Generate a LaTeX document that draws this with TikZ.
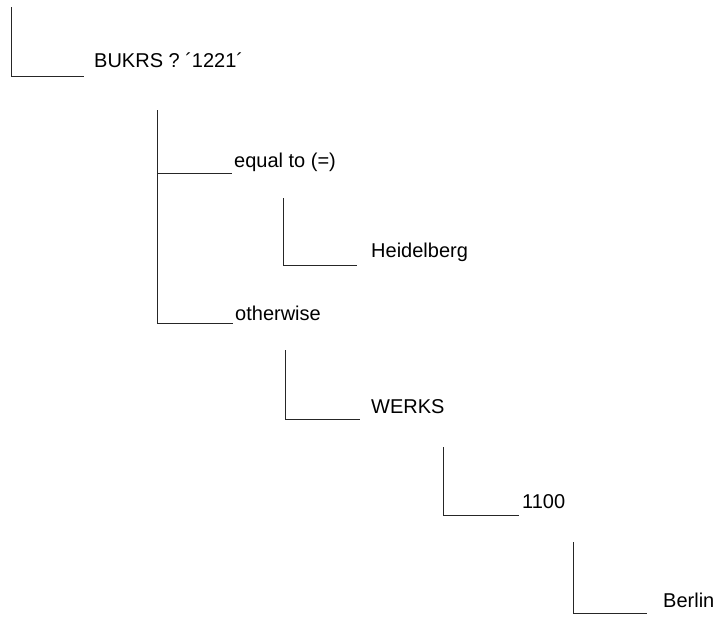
\documentclass[tikz,border=0pt]{standalone}
\usepackage{fontspec}
\setmainfont{Liberation Sans}
\begin{document}
\begin{tikzpicture}[x=1pt,y=-1pt,
  lbl/.style={anchor=base west,inner sep=0pt,font=\fontsize{20}{22}\selectfont},
  link/.style={draw=black!85,line width=1pt}]
\useasboundingbox (0,0) rectangle (720,616);
% nodes
\node[lbl] (bukrs) at (94,67) {BUKRS ? ´1221´};
\node[lbl] (eq) at (234,167) {equal to (=)};
\node[lbl] (oth) at (235,320) {otherwise};
\node[lbl] (heid) at (371,257) {Heidelberg};
\node[lbl] (werks) at (371,413) {WERKS};
\node[lbl] (n1100) at (522,508) {1100};
\node[lbl] (berlin) at (663,607) {Berlin};
% bracket coordinates
\coordinate (t1) at (11,7);   \coordinate (e1) at (84,76);
\coordinate (t2) at (157,110);\coordinate (e2a) at (232,173); \coordinate (e2b) at (233,323);
\coordinate (t3) at (283,198);\coordinate (e3) at (357,265);
\coordinate (t4) at (285,350);\coordinate (e4) at (360,419);
\coordinate (t5) at (443,447);\coordinate (e5) at (519,515);
\coordinate (t6) at (573,542);\coordinate (e6) at (647,613);
% connectors
\draw[link] (t1) |- (e1);
\draw[link] (t2) |- (e2b);
\draw[link] (t2 |- e2a) -- (e2a);
\draw[link] (t3) |- (e3);
\draw[link] (t4) |- (e4);
\draw[link] (t5) |- (e5);
\draw[link] (t6) |- (e6);
\end{tikzpicture}
\end{document}
